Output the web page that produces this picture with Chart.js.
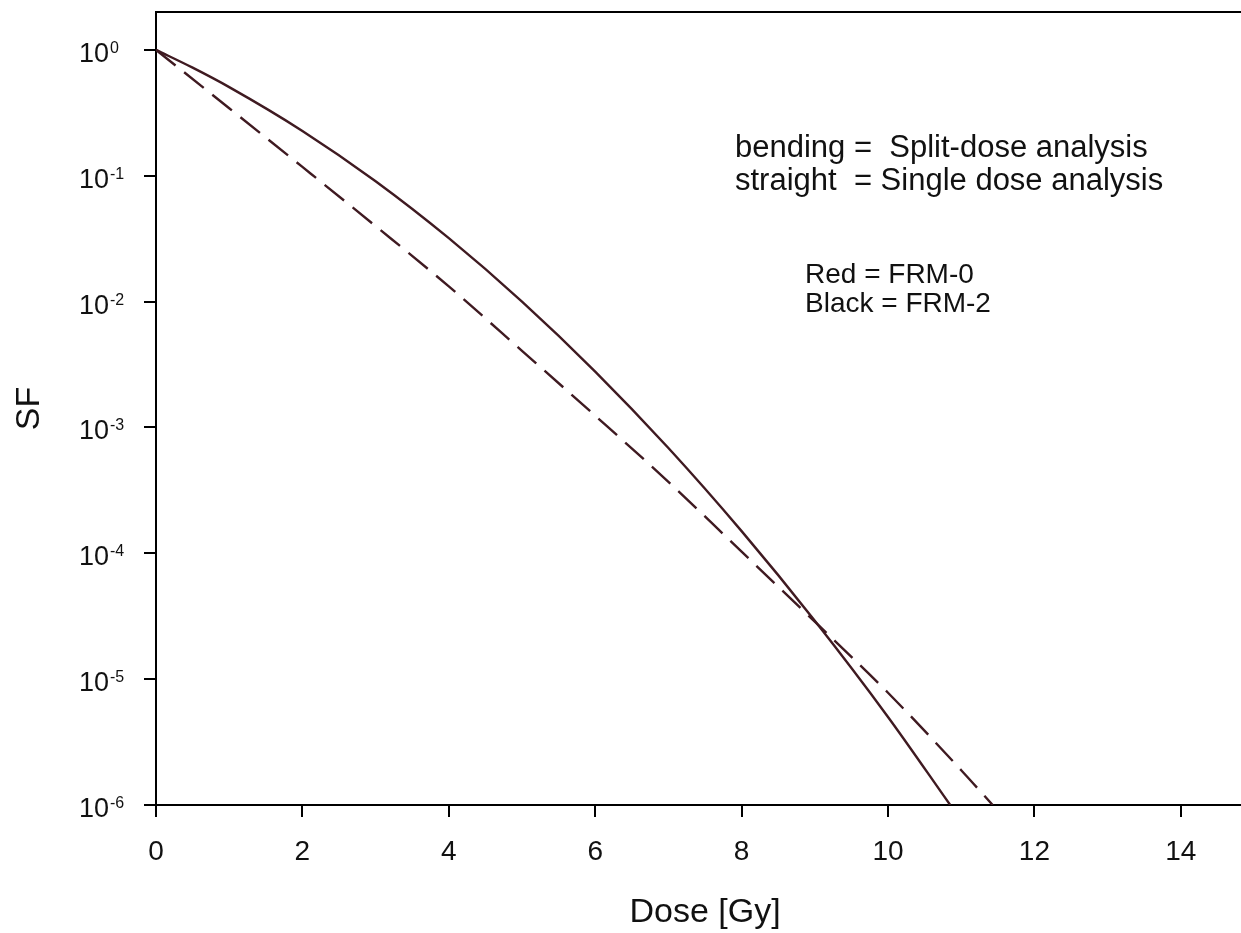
<!DOCTYPE html>
<html>
<head>
<meta charset="utf-8">
<title>SF vs Dose</title>
<script src="https://cdn.jsdelivr.net/npm/chart.js@4/dist/chart.umd.min.js"></script>
<style>
html, body { margin: 0; padding: 0; background: #fff; overflow: hidden; }
#wrap { width: 1256px; height: 933px; }
</style>
</head>
<body>
<div id="wrap"><canvas id="grafico"></canvas></div>
<script>
// values
var splitDose = [0, 0.5, 1, 2, 3, 4, 5, 6, 7, 8, 9, 10, 10.85];
var splitSF = [1, 0.722, 0.506, 0.227, 0.0904, 0.0319, 0.0100, 0.00278, 0.000686, 0.00015, 0.0000291, 0.00000501, 0.000001];
var singleDose = [0, 1, 2, 3, 4, 5, 6, 7, 8, 9, 10, 11, 11.43];
var singleSF = [1, 0.344, 0.1175, 0.0398, 0.0132, 0.00406, 0.00124, 0.00037, 0.000103, 0.0000286, 0.0000078, 0.00000189, 0.000001];
var doseTicks = [0, 2, 4, 6, 8, 10, 12, 14];
var sfExponents = [0, -1, -2, -3, -4, -5, -6];
var notesMethod = ["bending =  Split-dose analysis", "straight  = Single dose analysis"];
var notesColour = ["Red = FRM-0", "Black = FRM-2"];

var FONT = '"Liberation Sans", Arial, sans-serif';
var LINE = '#3f1a21';

function pares(xs, ys) {
	return xs.map(function(x, i) { return { x: x, y: ys[i] }; });
}

var extras = {
	id: 'extras',
	afterDraw: function(chart) {
		var ctx = chart.ctx, area = chart.chartArea, y = chart.scales.y;
		ctx.save();
		// top frame
		ctx.strokeStyle = '#000';
		ctx.lineWidth = 2;
		ctx.beginPath();
		ctx.moveTo(area.left - 1, area.top);
		ctx.lineTo(area.right + 5, area.top);
		ctx.stroke();

		// log tick labels 10^n
		ctx.fillStyle = '#111';
		ctx.textAlign = 'left';
		ctx.textBaseline = 'alphabetic';
		sfExponents.forEach(function(e) {
			var py = y.getPixelForValue(Math.pow(10, e));
			ctx.font = '27px ' + FONT;
			ctx.fillText('10', 79, py + 12);
			var w = ctx.measureText('10').width;
			ctx.font = '16px ' + FONT;
			ctx.fillText(String(e), 79 + w + 1, py + 3);
		});

		// notes
		ctx.font = '31px ' + FONT;
		ctx.fillText(notesMethod[0], 735, 157);
		ctx.fillText(notesMethod[1], 735, 190);
		ctx.font = '28px ' + FONT;
		ctx.fillText(notesColour[0], 805, 283);
		ctx.fillText(notesColour[1], 805, 312);
		ctx.restore();
	}
};

new Chart(document.getElementById('grafico'), {
	type: 'line',
	data: {
		datasets: [
			{
				label: 'bending',
				data: pares(splitDose, splitSF),
				borderColor: LINE,
				borderWidth: 2.4,
				pointRadius: 0,
				fill: false,
				tension: 0.4,
				cubicInterpolationMode: 'monotone'
			},
			{
				label: 'straight',
				data: pares(singleDose, singleSF),
				borderColor: LINE,
				borderWidth: 2.4,
				borderDash: [25, 11],
				pointRadius: 0,
				fill: false,
				tension: 0.4,
				cubicInterpolationMode: 'monotone'
			}
		]
	},
	options: {
		responsive: true,
		maintainAspectRatio: false,
		devicePixelRatio: 1,
		animation: false,
		layout: { padding: { top: 12, right: 2, left: 0, bottom: 0 } },
		plugins: {
			legend: { display: false },
			tooltip: { enabled: false }
		},
		scales: {
			x: {
				type: 'linear',
				min: 0,
				max: 15,
				afterBuildTicks: function(s) { s.ticks = doseTicks.map(function(v) { return { value: v }; }); },
				afterFit: function(s) { s.height = 128; },
				grid: { drawOnChartArea: false, drawTicks: true, tickLength: 12, color: '#000', lineWidth: 2 },
				border: { display: true, color: '#000', width: 2 },
				ticks: { color: '#111', font: { size: 28, family: FONT }, padding: 18, maxRotation: 0, autoSkip: false },
				title: { display: true, text: 'Dose [Gy]', color: '#111', font: { size: 34, family: FONT, lineHeight: 1 }, padding: { top: 0, bottom: 3 } }
			},
			y: {
				type: 'logarithmic',
				min: 0.000001,
				max: 2,
				afterBuildTicks: function(s) { s.ticks = sfExponents.map(function(e) { return { value: Math.pow(10, e) }; }); },
				afterFit: function(s) { s.width = 156; },
				grid: { drawOnChartArea: false, drawTicks: true, tickLength: 12, color: '#000', lineWidth: 2 },
				border: { display: true, color: '#000', width: 2 },
				ticks: { display: false },
				title: { display: true, text: 'SF', color: '#111', font: { size: 34, family: FONT, lineHeight: 1 }, padding: { top: 13, bottom: 0 } }
			}
		}
	},
	plugins: [extras]
});
</script>
</body>
</html>
